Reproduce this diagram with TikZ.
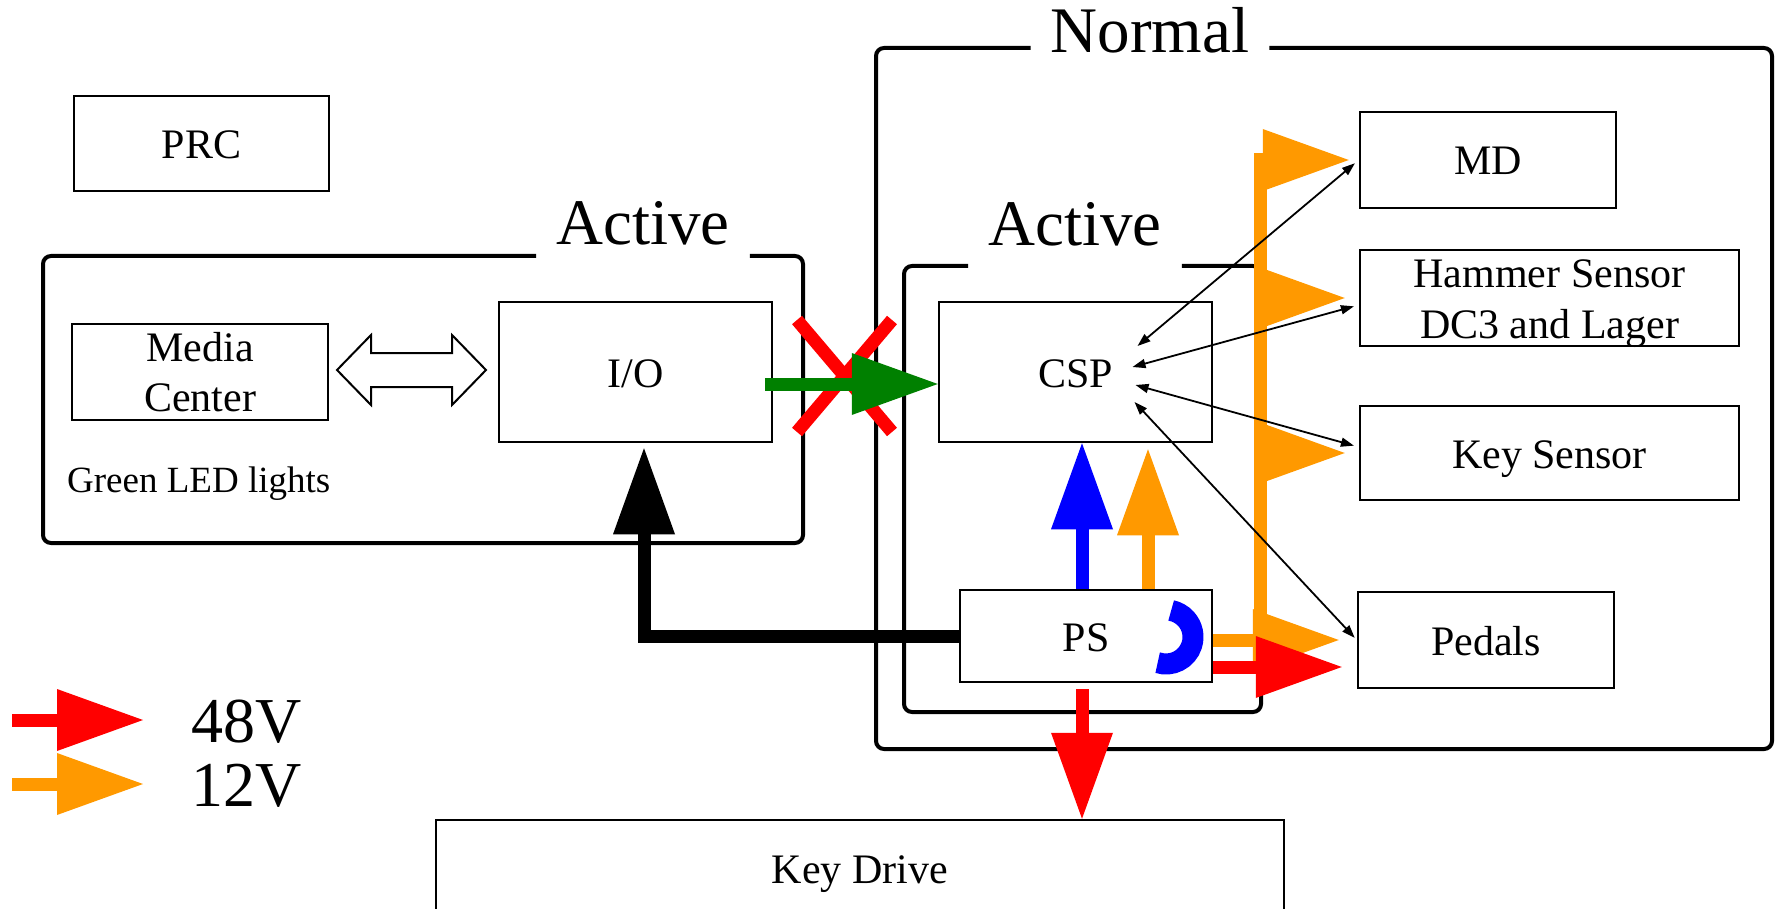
\documentclass[tikz,border=0pt]{standalone}
\usepackage{fontspec}
\setmainfont{Liberation Serif}
\usetikzlibrary{arrows.meta,calc}

\definecolor{volt48}{RGB}{255,0,0}
\definecolor{volt12}{RGB}{255,153,0}
\definecolor{okgreen}{RGB}{0,128,0}
\definecolor{ctlblue}{RGB}{0,0,255}

\begin{document}
\begin{tikzpicture}[
    x=1pt, y=1pt,
    font=\fontsize{42}{50}\selectfont,
    blk/.style={draw,line width=2.5pt,fill=white,inner sep=0pt,align=center},
    one/.style={text height=30pt,text depth=0pt},
    frame/.style={line width=4pt,rounded corners=8pt},
    ttl/.style={font=\fontsize{65}{70}\selectfont,inner xsep=20pt,inner ysep=0pt,anchor=base},
    pow/.style={line width=13pt,-{Triangle[length=86pt,width=62pt,line width=0pt]}},
    sig/.style={line width=1.8pt,{Triangle[length=13pt,width=9pt]}-{Triangle[length=13pt,width=9pt]}},
    cross/.style={volt48,line width=13pt}]

  \useasboundingbox (0,0) rectangle (1779,-909);

  %% ============================ frames ======================================
  \node[ttl] (tnorm) at (1150,-53) {Normal};
  \node[ttl] (tact1) at (643,-245) {Active};
  \node[ttl] (tact2) at (1075,-246) {Active};
  \draw[frame] (tnorm.west |- 0,-48) -| (876,-749) -| (1772,-48) -- (tnorm.east |- 0,-48);
  \draw[frame] (tact1.west |- 0,-256) -| (43,-543) -| (803,-256) -- (tact1.east |- 0,-256);
  \draw[frame] (tact2.west |- 0,-266) -| (904,-712) -| (1261,-266) -- (tact2.east |- 0,-266);

  %% ============================ blocks ======================================
  \node[blk,one,minimum width=255pt,minimum height=95pt]  (prc) at (201.5,-143.5) {PRC};
  \node[blk,minimum width=256pt,minimum height=96pt]      (mc)  at (200,-372)     {Media\\Center};
  \node[blk,one,minimum width=273pt,minimum height=140pt] (io)  at (635.5,-372)   {I/O};
  \node[blk,one,minimum width=273pt,minimum height=140pt] (csp) at (1075.5,-372)  {CSP};
  \node[blk,one,minimum width=252pt,minimum height=92pt]  (ps)  at (1086,-636)    {PS};
  \node[blk,one,minimum width=256pt,minimum height=96pt]  (md)  at (1488,-160)    {MD};
  \node[blk,minimum width=379pt,minimum height=96pt]      (hs)  at (1549.5,-298)
    {\raisebox{-11pt}[45pt][45pt]{\begin{tabular}{@{}c@{}}Hammer Sensor\\[1pt]DC3 and Lager\end{tabular}}};
  \node[blk,one,minimum width=379pt,minimum height=94pt]  (ks)  at (1549.5,-453)  {Key Sensor};
  \node[blk,one,minimum width=256pt,minimum height=96pt]  (pd)  at (1486,-640)    {Pedals};
  \node[blk,one,minimum width=848pt,minimum height=96pt]  (kd)  at (860,-868)     {Key Drive};
  \node[font=\fontsize{37}{44}\selectfont,anchor=base west,inner sep=0pt] (led) at (67,-492) {Green LED lights};

  %% ============================ legend ======================================
  \node[font=\fontsize{64}{70}\selectfont,anchor=base west,inner sep=0pt] (l48) at (191,-742) {48V};
  \node[font=\fontsize{64}{70}\selectfont,anchor=base west,inner sep=0pt] (l12) at (191,-806) {12V};
  \coordinate (k48) at (12,-720);  \coordinate (k48e) at (143,-720);
  \coordinate (k12) at (12,-784);  \coordinate (k12e) at (143,-784);
  \draw[pow,volt48] (k48) -- (k48e);
  \draw[pow,volt12] (k12) -- (k12e);

  %% ========================= media link =====================================
  \coordinate (lnk) at (411.5,-370);
  \draw[line width=2pt,fill=white] ($(lnk)+(-74.5,0)$) -- ++(34,35) -- ++(0,-18) -- ++(81,0)
    -- ++(0,18) -- ++(34,-35) -- ++(-34,-35) -- ++(0,18) -- ++(-81,0) -- ++(0,-18) -- cycle;

  %% ======================== power and link ==================================
  \coordinate (xm) at (844.5,-376);
  \draw[cross] ($(xm)+(-47.5,56)$) -- ($(xm)+(47.5,-56)$);
  \draw[cross] ($(xm)+(47.5,56)$) -- ($(xm)+(-47.5,-56)$);
  \draw[pow,okgreen] ([shift={(-8,-12)}]io.east) -- ([yshift=-12pt]csp.west);

  \draw[pow,black,shorten >=5pt] (ps.west) -| ([xshift=8.5pt]io.south);
  \draw[pow,ctlblue] ([xshift=-4pt]ps.north) -- ([xshift=-4pt]ps.north |- csp.south);
  \draw[pow,volt12,shorten >=6pt] ([xshift=62pt]ps.north) -- ([xshift=62pt]ps.north |- csp.south);
  \draw[pow,volt48,shorten <=6pt] ([xshift=-4pt]ps.south) -- ([xshift=-4pt]ps.south |- kd.north);

  \coordinate (bus) at (1260,-667);
  \draw[pow,volt12] (bus) |- ([xshift=-10pt]md.west);
  \foreach \n in {hs,ks}
    \draw[pow,volt12] ([xshift=-2pt]bus |- \n.west) -- ([xshift=-14pt]\n.west);
  \draw[pow,volt12,shorten >=18pt] ([yshift=-4pt]ps.east) -- ([yshift=-4pt]ps.east -| pd.west);
  \draw[pow,volt48,shorten >=15pt] ([yshift=-31pt]ps.east) -- ([yshift=-31pt]ps.east -| pd.west);

  \draw[ctlblue,line width=21pt] ([shift={(80,-1)}]ps.center) ++(-108:27pt)
    arc[start angle=-108,end angle=79,radius=27pt];

  %% ========================== sensor bus ====================================
  \coordinate (s1) at ([shift={(62,26)}]csp.center);
  \coordinate (s2) at ([shift={(57,5)}]csp.center);
  \coordinate (s3) at ([shift={(60,-13)}]csp.center);
  \coordinate (s4) at ([shift={(59,-30)}]csp.center);
  \draw[sig,shorten >=5pt] (s1) -- (md.west);
  \draw[sig,shorten >=5pt] (s2) -- ([yshift=-7pt]hs.west);
  \draw[sig,shorten >=5pt] (s3) -- ([yshift=6pt]ks.west);
  \draw[sig,shorten >=3pt] (s4) -- (pd.west);

\end{tikzpicture}
\end{document}
